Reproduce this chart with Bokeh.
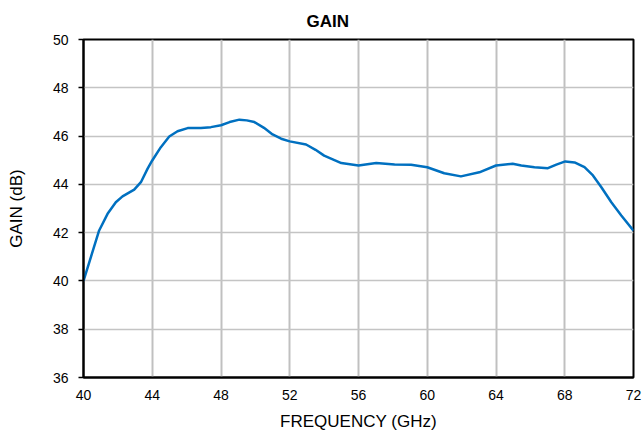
from bokeh.plotting import figure
from bokeh.models import Range1d, FixedTicker
from bokeh.embed import file_html
from bokeh.resources import INLINE

freq_ghz = [40.0, 40.43, 40.91, 41.4, 41.88, 42.27, 42.95, 43.34, 43.73, 44.0, 44.5, 44.99,
            45.47, 46.06, 46.83, 47.41, 48.0, 48.5, 49.07, 49.5, 49.94, 50.5, 51.0, 51.5,
            52.0, 52.95, 53.5, 54.0, 55.0, 56.0, 57.03, 58.1, 59.06, 60.0, 60.99, 61.96,
            63.03, 64.0, 64.97, 65.47, 66.24, 67.02, 67.51, 68.03, 68.57, 69.15, 69.64,
            70.13, 70.71, 71.29, 72.0]
gain_db = [40.0, 40.99, 42.09, 42.78, 43.26, 43.5, 43.78, 44.09, 44.65, 44.99, 45.54, 45.98,
           46.2, 46.33, 46.33, 46.37, 46.45, 46.58, 46.68, 46.65, 46.58, 46.34, 46.07, 45.89,
           45.78, 45.65, 45.43, 45.19, 44.88, 44.78, 44.88, 44.82, 44.81, 44.71, 44.46, 44.33,
           44.5, 44.78, 44.85, 44.78, 44.71, 44.67, 44.82, 44.95, 44.91, 44.71, 44.37,
           43.88, 43.26, 42.71, 42.08]
x_ticks = [40, 44, 48, 52, 56, 60, 64, 68, 72]
y_ticks = [36, 38, 40, 42, 44, 46, 48, 50]

FONT = "Liberation Sans"

p = figure(width=642, height=436, output_backend="svg", toolbar_location=None,
           x_range=Range1d(40, 72), y_range=Range1d(36, 50),
           min_border_left=83, min_border_right=9, min_border_top=39, min_border_bottom=59)

p.title.text = "GAIN"
p.title.align = "left"
p.title.offset = 223
p.title.standoff = 18
p.title.text_font = FONT
p.title.text_font_size = "17px"
p.title.text_font_style = "bold"
p.title.text_color = "black"

p.line(freq_ghz, gain_db, line_color="#0070c0", line_width=2.5, line_join="round")

p.xaxis.ticker = FixedTicker(ticks=x_ticks)
p.yaxis.ticker = FixedTicker(ticks=y_ticks)
p.xaxis.minor_tick_line_color = None
p.yaxis.minor_tick_line_color = None

for ax in (p.xaxis, p.yaxis):
    ax.axis_line_color = "black"
    ax.axis_line_width = 2
    ax.major_tick_line_color = "black"
    ax.major_tick_line_width = 1.5
    ax.major_label_text_font = FONT
    ax.major_label_text_font_size = "14px"
    ax.major_label_text_color = "black"
    ax.axis_label_text_font = FONT
    ax.axis_label_text_font_size = "17px"
    ax.axis_label_text_font_style = "normal"
    ax.axis_label_text_color = "black"

p.xaxis.axis_label = "FREQUENCY (GHz)"
p.yaxis.axis_label = "GAIN (dB)"
p.xaxis.major_tick_in = 0
p.xaxis.major_tick_out = 0
p.xaxis.major_label_standoff = 12
p.xaxis.axis_label_standoff = 9
p.yaxis.major_tick_in = 0
p.yaxis.major_tick_out = 5
p.yaxis.major_label_standoff = 10
p.yaxis.axis_label_standoff = 24

p.xgrid.ticker = FixedTicker(ticks=x_ticks)
p.ygrid.ticker = FixedTicker(ticks=y_ticks)
p.xgrid.grid_line_color = "#c0c0c0"
p.xgrid.grid_line_width = 2
p.ygrid.grid_line_color = "#c4c4c4"
p.ygrid.grid_line_width = 1.5
p.ygrid.grid_line_alpha = 1

p.outline_line_color = "black"
p.outline_line_width = 2
p.outline_line_alpha = 1
p.background_fill_color = "white"
p.border_fill_color = "white"

open("out.html", "w").write(file_html(p, INLINE))
